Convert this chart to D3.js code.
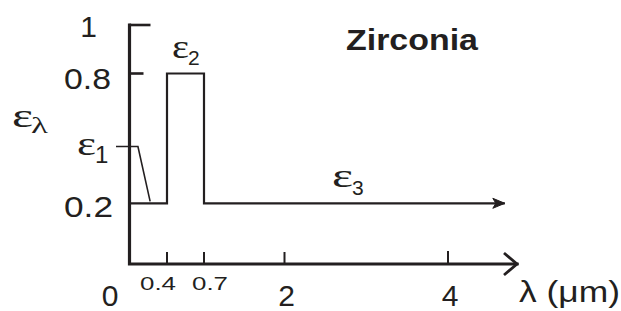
<!DOCTYPE html>
<html>
<head>
<meta charset="utf-8">
<script src="https://cdn.jsdelivr.net/npm/d3@7"></script>
<style>
body{margin:0;background:#fff;}
svg{display:block;font-family:"Liberation Sans",Arial,sans-serif;}
</style>
</head>
<body>
<svg id="c" width="621" height="311"></svg>
<script>
// Data
const xTickValues = [0.4, 0.7, 2, 4];
const xTickLabels = ["0.4", "0.7", "2", "4"];
const yTickValues = [1, 0.8, 0.2];
const yTickLabels = ["1", "0.8", "0.2"];
const bandStart = [0, 0.4, 0.7];
const bandEnd = [0.4, 0.7, 4.7];
const emissivity = [0.2, 0.8, 0.2];
const bandNames = ["1", "2", "3"];
const eps1Level = 0.5;

const svg = d3.select("#c");
// non-uniform (piecewise) scales as in the drawing
const x = d3.scaleLinear().domain([0, 0.4, 0.7, 2, 4, 4.85]).range([129.5, 167, 204, 284.5, 448, 517]);
const y = d3.scaleLinear().domain([0, 0.2, 0.5, 0.8, 1]).range([264, 203.3, 146.5, 73.5, 25]);

const ink = "#231f20";

// text helper: stretched text placed by its left edge and width
function txt(x0, w, base, str, size, opts = {}) {
  const t = svg.append("text").attr("x", x0).attr("y", base)
    .attr("font-size", size).attr("fill", ink).text(str);
  if (w) t.attr("textLength", w).attr("lengthAdjust", "spacingAndGlyphs");
  if (opts.anchor) t.attr("text-anchor", opts.anchor);
  if (opts.bold) t.attr("font-weight", "bold");
  if (opts.family) t.attr("font-family", opts.family);
  return t;
}

// step line
const pts = [];
emissivity.forEach((v, i) => { pts.push([bandStart[i], v]); pts.push([bandEnd[i], v]); });
pts[0][0] = 0.015;
svg.append("path")
  .attr("d", d3.line().x(d => x(d[0])).y(d => y(d[1]))(pts))
  .attr("fill", "none").attr("stroke", ink).attr("stroke-width", 2.2);
// arrow head on step line
const ex = x(bandEnd[2]), ey = y(emissivity[2]);
svg.append("path")
  .attr("d", `M${ex-12},${ey-5}L${ex},${ey}L${ex-12},${ey+5}L${ex-9},${ey}Z`)
  .attr("fill", ink).attr("stroke", ink).attr("stroke-width", 1);

// axes
const ax = svg.append("g");
ax.append("path")
  .attr("d", `M${x(0)},${y(1)}V${y(0)}H${x(4.85)}`)
  .attr("fill", "none").attr("stroke", ink).attr("stroke-width", 3.2).attr("stroke-linecap", "square");
const axE = x(4.85), axY = y(0);
ax.append("path")
  .attr("d", `M${axE-13},${axY-11}L${axE},${axY}L${axE-13},${axY+11}`)
  .attr("fill", "none").attr("stroke", ink).attr("stroke-width", 2.8);

// y ticks (pointing right)
const yTickLen = [21, 14];
[1, 0.8].forEach((v, i) => {
  ax.append("line").attr("x1", x(0)).attr("x2", x(0) + yTickLen[i])
    .attr("y1", y(v)).attr("y2", y(v)).attr("stroke", ink).attr("stroke-width", 2.6);
});
// x ticks (pointing up)
xTickValues.forEach(v => {
  ax.append("line").attr("x1", x(v)).attr("x2", x(v))
    .attr("y1", y(0)).attr("y2", y(0) - (v === 4 ? 13 : 12)).attr("stroke", ink).attr("stroke-width", 2);
});

// x tick labels
txt(110, null, 306, "0", 30, {anchor: "middle"});
const xLabLeft = [140, 192, null, null];
xTickValues.forEach((v, i) => {
  if (v < 1) txt(xLabLeft[i], 36, 290, xTickLabels[i], 18.5);
  else txt(x(v) + 2, null, 306, xTickLabels[i], 30, {anchor: "middle"});
});
// y tick labels
txt(88.5, null, 37, yTickLabels[0], 30, {anchor: "middle"});
txt(64, 47, y(0.8) + 15, yTickLabels[1], 30);
txt(64, 49, y(0.2) + 14, yTickLabels[2], 30);

// axis titles
txt(519, 101, 302, "λ (μm)", 30);
const serif = "Liberation Serif, Times New Roman, serif";
txt(12, 21, 127, "ε", 33, {family: serif});
txt(31, 17, 133, "λ", 23, {family: serif});

// epsilon labels
const epsPos = [[77, 155, 95, 163, 24], [172, 58, 188, 65, 21], [332, 187, 352, 195, 21]];
epsPos.forEach((p, i) => {
  txt(p[0], p[2] - p[0] + 1, p[1], "ε", 33, {family: serif});
  txt(p[2], null, p[3], bandNames[i], p[4]);
});
// leader for eps1
svg.append("path")
  .attr("d", `M116,${y(eps1Level)}H${x(0.09)}L${x(0.22)},${y(0.21)}`)
  .attr("fill", "none").attr("stroke", ink).attr("stroke-width", 1.6);

// title
txt(346, 132, 50, "Zirconia", 30, {bold: true});
</script>
</body>
</html>
